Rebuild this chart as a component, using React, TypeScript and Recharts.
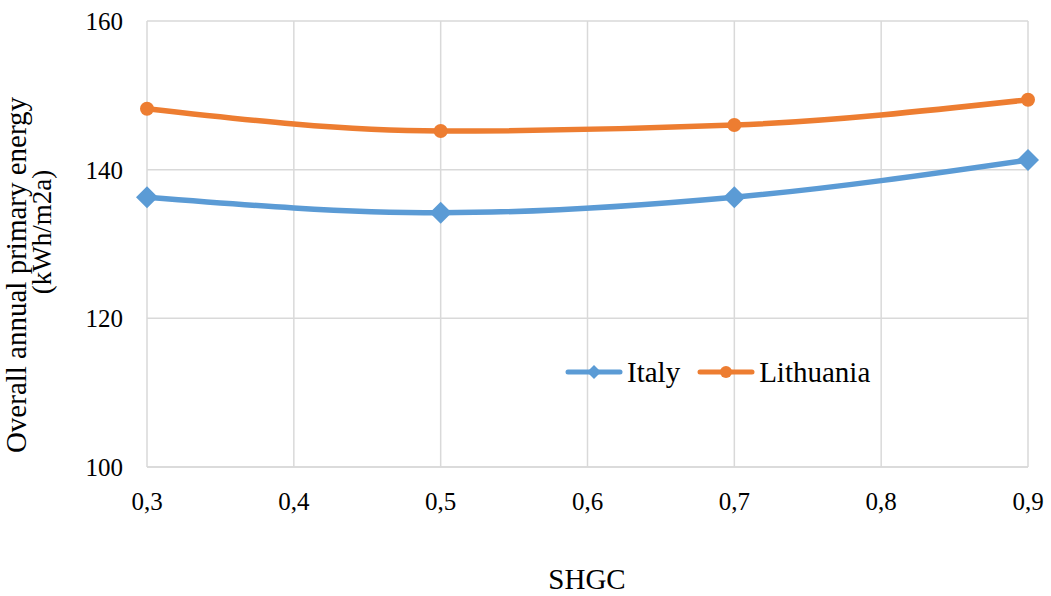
import { CartesianGrid, Line, LineChart, XAxis, YAxis } from 'recharts'

const shgc = [0.3, 0.5, 0.7, 0.9]
const italy = [136.3, 134.2, 136.3, 141.3]
const lithuania = [148.2, 145.2, 146.0, 149.4]
const xTicks = [0.3, 0.4, 0.5, 0.6, 0.7, 0.8, 0.9]
const yTicks = [100, 120, 140, 160]

const data = shgc.map((x, i) => ({
  x,
  italy: italy[i],
  lithuania: lithuania[i],
}))

const BLUE = '#5B9BD5'
const ORANGE = '#ED7D31'
const FONT = "'Liberation Serif', 'Times New Roman', serif"

function Diamond(props: any) {
  const { cx, cy, index } = props
  if (cx == null || cy == null) return null
  const r = 11
  return (
    <polygon
      key={'d' + index}
      points={`${cx},${cy - r} ${cx + r},${cy} ${cx},${cy + r} ${cx - r},${cy}`}
      fill={BLUE}
    />
  )
}

function XTick(props: any) {
  const { x, y, payload } = props
  return (
    <text x={x} y={y + 35} textAnchor='middle' fontFamily={FONT} fontSize={25} fill='#000'>
      {Number(payload.value).toFixed(1).replace('.', ',')}
    </text>
  )
}

function YTick(props: any) {
  const { x, y, payload } = props
  return (
    <text x={x} y={y + 9} textAnchor='end' fontFamily={FONT} fontSize={25} fill='#000'>
      {payload.value}
    </text>
  )
}

function LegendBox() {
  return (
    <div
      style={{
        position: 'absolute',
        left: 564,
        top: 354,
        display: 'flex',
        alignItems: 'center',
        fontFamily: FONT,
        fontSize: 29,
        lineHeight: '36px',
        color: '#000',
      }}
    >
      <svg width={60} height={20}>
        <line x1={4} y1={10} x2={56} y2={10} stroke={BLUE} strokeWidth={5} strokeLinecap='round' />
        <polygon points='30,3 37,10 30,17 23,10' fill={BLUE} />
      </svg>
      <span style={{ marginLeft: 3 }}>Italy</span>
      <svg width={60} height={20} style={{ marginLeft: 16 }}>
        <line x1={4} y1={10} x2={56} y2={10} stroke={ORANGE} strokeWidth={5} strokeLinecap='round' />
        <circle cx={30} cy={10} r={6} fill={ORANGE} />
      </svg>
      <span style={{ marginLeft: 3 }}>Lithuania</span>
    </div>
  )
}

export default function App() {
  return (
    <div style={{ position: 'absolute', left: 0, top: 0, width: 1051, height: 596, background: '#fff', fontFamily: FONT }}>
      <LineChart width={1051} height={596} data={data} margin={{ top: 21, right: 23, bottom: 89, left: 87 }}>
        <CartesianGrid stroke='#d9d9d9' strokeWidth={1.5} />
        <XAxis
          dataKey='x'
          type='number'
          domain={[0.3, 0.9]}
          ticks={xTicks}
          tick={<XTick />}
          tickLine={false}
          axisLine={{ stroke: '#d9d9d9', strokeWidth: 1.5 }}
          height={40}
        />
        <YAxis
          domain={[100, 160]}
          ticks={yTicks}
          tick={<YTick />}
          tickLine={false}
          axisLine={false}
          tickMargin={18}
          width={60}
        />
        <Line
          type='monotone'
          dataKey='italy'
          stroke={BLUE}
          strokeWidth={5.5}
          dot={Diamond}
          activeDot={false}
          isAnimationActive={false}
        />
        <Line
          type='monotone'
          dataKey='lithuania'
          stroke={ORANGE}
          strokeWidth={5.5}
          dot={{ r: 7, fill: ORANGE, stroke: 'none' }}
          activeDot={false}
          isAnimationActive={false}
        />
      </LineChart>
      <LegendBox />
      <svg width={1051} height={596} style={{ position: 'absolute', left: 0, top: 0, pointerEvents: 'none' }}>
        <text transform='translate(26,275) rotate(-90)' textAnchor='middle' fontFamily={FONT} fontSize={29} fill='#000'>
          Overall annual primary energy
        </text>
        <text transform='translate(51,232) rotate(-90)' textAnchor='middle' fontFamily={FONT} fontSize={27} fill='#000'>
          (kWh/m2a)
        </text>
        <text x={587} y={589} textAnchor='middle' fontFamily={FONT} fontSize={29} fill='#000'>
          SHGC
        </text>
      </svg>
    </div>
  )
}
